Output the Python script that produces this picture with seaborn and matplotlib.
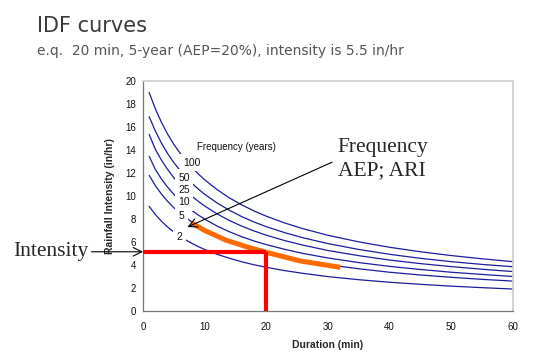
import seaborn as sns
import pandas as pd
import matplotlib.pyplot as plt

# duration (min) and rainfall intensity (in/hr)
duration = [1, 2, 3, 4, 5, 6, 7, 8, 9, 10, 12, 14, 16, 18, 20, 23, 26, 30, 35, 40, 45, 50, 55, 60]
i_100 = [19.0, 17.58, 16.39, 15.37, 14.49, 13.73, 13.05, 12.44, 11.9, 11.41, 10.56, 9.84,
         9.23, 8.70, 8.24, 7.65, 7.15, 6.58, 6.01, 5.54, 5.15, 4.82, 4.54, 4.29]
i_50 = [16.9, 15.65, 14.59, 13.68, 12.9, 12.22, 11.61, 11.07, 10.59, 10.15, 9.4, 8.76,
        8.21, 7.74, 7.33, 6.81, 6.36, 5.86, 5.35, 4.93, 4.58, 4.29, 4.05, 3.85]
i_25 = [15.35, 14.06, 13.11, 12.3, 11.59, 10.98, 10.44, 9.95, 9.52, 9.13, 8.45, 7.87,
        7.38, 6.96, 6.59, 6.12, 5.72, 5.26, 4.81, 4.43, 4.12, 3.86, 3.63, 3.43]
i_10 = [13.45, 12.31, 11.47, 10.76, 10.14, 9.61, 9.14, 8.71, 8.33, 7.99, 7.39, 6.89,
        6.46, 6.09, 5.77, 5.36, 5.0, 4.61, 4.21, 3.88, 3.61, 3.37, 3.18, 3.0]
i_5 = [11.8, 10.9, 10.16, 9.53, 8.98, 8.51, 8.09, 7.71, 7.37, 7.06, 6.53, 6.07,
       5.69, 5.35, 5.06, 4.69, 4.38, 4.02, 3.67, 3.37, 3.13, 2.93, 2.75, 2.6]
i_2 = [9.1, 8.39, 7.8, 7.3, 6.87, 6.49, 6.16, 5.86, 5.59, 5.35, 4.93, 4.59,
       4.28, 4.02, 3.8, 3.51, 3.27, 2.99, 2.72, 2.5, 2.32, 2.16, 2.03, 1.91]

freq = ['100', '50', '25', '10', '5', '2']
label_t = [7.9, 6.65, 6.65, 6.65, 6.3, 5.9]
label_i = [12.9, 11.6, 10.5, 9.45, 8.3, 6.4]

# highlighted 5-year curve
hl_t = [7.9, 10, 13.5, 17, 20, 25.5, 32]
hl_i = [7.65, 7.0, 6.15, 5.55, 5.1, 4.35, 3.8]

ex_t = 20
ex_i = 5.15

rows = []
for f, vals in zip(freq, [i_100, i_50, i_25, i_10, i_5, i_2]):
    for t, v in zip(duration, vals):
        rows.append({'Duration': t, 'Intensity': v, 'Frequency': f})
df = pd.DataFrame(rows)

sns.set_style('white')
plt.rcParams['font.family'] = ['Liberation Sans', 'DejaVu Sans']

fig = plt.figure(figsize=(5.34, 3.59), dpi=100)
ax = fig.add_axes([0.2678, 0.1337, 0.6929, 0.6407])

sns.lineplot(data=df, x='Duration', y='Intensity', hue='Frequency',
             palette=['#1c1c9e'] * 6, linewidth=0.9, legend=False, ax=ax)

for f, t, v in zip(freq, label_t, label_i):
    ax.text(t, v, f, fontsize=7.5, ha='center', va='center', color='#111111', zorder=4,
            bbox=dict(facecolor='white', edgecolor='none', pad=2.5))
ax.text(8.7, 14.3, 'Frequency (years)', fontsize=7, ha='left', va='center', color='#111111')

ax.plot(hl_t, hl_i, color='#ff6a00', linewidth=3.6, solid_capstyle='butt', zorder=5)
ax.plot([0, ex_t], [ex_i, ex_i], color='#ff0000', linewidth=3.0, solid_capstyle='butt', zorder=6, clip_on=False)
ax.plot([ex_t, ex_t], [0, ex_i], color='#ff0000', linewidth=3.0, solid_capstyle='butt', zorder=6, clip_on=False)

ax.set_xlim(0, 60)
ax.set_ylim(0, 20)
ax.set_xticks(range(0, 61, 10))
ax.set_yticks(range(0, 21, 2))
ax.tick_params(axis='both', labelsize=7, length=3, width=0.8, color='#777777', direction='out',
               pad=2, labelcolor='#111111')
ax.tick_params(axis='x', pad=5)
ax.set_xlabel('Duration (min)', fontsize=7.5, fontweight='bold', labelpad=6)
ax.set_ylabel('Rainfall Intensity (in/hr)', fontsize=7.5, fontweight='bold', labelpad=7)
for side in ['left', 'bottom']:
    ax.spines[side].set_color('#777777')
    ax.spines[side].set_linewidth(0.9)
for side in ['top', 'right']:
    ax.spines[side].set_color('#cccccc')
    ax.spines[side].set_linewidth(1.2)

ax.annotate('Frequency\nAEP; ARI', xy=(7.2, 7.3), xytext=(31.6, 15.0),
            fontsize=15.5, family=['Liberation Serif'], ha='left', va='top',
            linespacing=1.3, annotation_clip=False, zorder=7,
            arrowprops=dict(arrowstyle='->', color='black', lw=0.8,
                            relpos=(0, 0.5), shrinkA=2, shrinkB=0))
ax.annotate('Intensity', xy=(0, ex_i), xytext=(-8.9, ex_i), xycoords='data',
            fontsize=15.5, family=['Liberation Serif'], ha='right', va='center',
            annotation_clip=False, zorder=7,
            arrowprops=dict(arrowstyle='->', color='black', lw=0.8, shrinkA=0, shrinkB=0))

fig.text(37 / 534, 1 - 26 / 359, 'IDF curves', fontsize=15, color='#3a3a3a',
         family=['DejaVu Sans'], va='center')
fig.text(37 / 534, 1 - 51 / 359, 'e.q.  20 min, 5-year (AEP=20%), intensity is 5.5 in/hr',
         fontsize=10, color='#555555', family=['DejaVu Sans'], va='center')

fig.savefig('out.png', dpi=100)
